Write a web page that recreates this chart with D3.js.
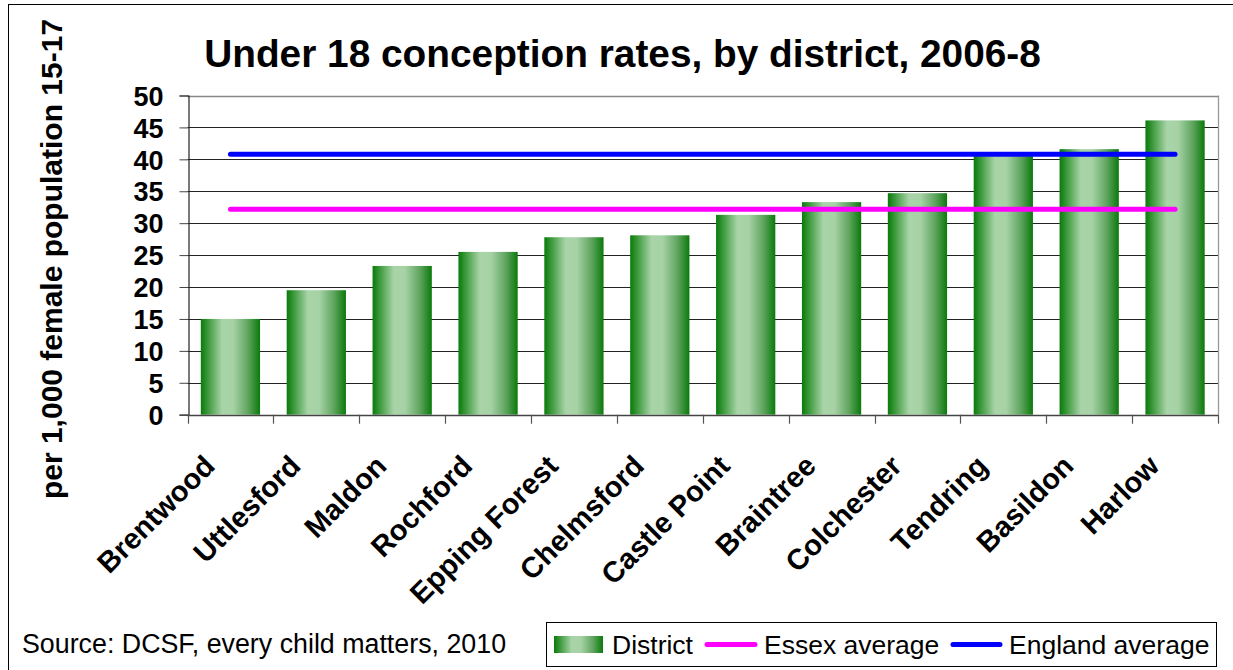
<!DOCTYPE html>
<html>
<head>
<meta charset="utf-8">
<script src="https://cdn.jsdelivr.net/npm/d3@7/dist/d3.min.js"></script>
<style>
html,body{margin:0;padding:0;background:#fff;}
svg{display:block;font-family:"Liberation Sans",Arial,sans-serif;}
</style>
</head>
<body>
<svg id="chart" width="1233" height="670"></svg>
<script>
const categories = ["Brentwood","Uttlesford","Maldon","Rochford","Epping Forest","Chelmsford","Castle Point","Braintree","Colchester","Tendring","Basildon","Harlow"];
const districtValues = [15.0,19.5,23.3,25.5,27.8,28.1,31.3,33.3,34.7,40.5,41.6,46.1];
const essexAverage = [32.2,32.2,32.2,32.2,32.2,32.2,32.2,32.2,32.2,32.2,32.2,32.2];
const englandAverage = [40.8,40.8,40.8,40.8,40.8,40.8,40.8,40.8,40.8,40.8,40.8,40.8];
const yTicks = [0,5,10,15,20,25,30,35,40,45,50];
const titleText = "Under 18 conception rates, by district, 2006-8";
const yTitle = "per 1,000 female population 15-17";
const sourceText = "Source: DCSF, every child matters, 2010";
const legendLabels = ["District","Essex average","England average"];

const svg = d3.select("#chart");
const plot = {left:187.5, right:1218, top:95.5, bottom:414.7};

// outer frame
svg.append("rect").attr("x",8.5).attr("y",4.5).attr("width",1300).attr("height",800)
  .attr("fill","#fff").attr("stroke","#000").attr("stroke-width",1);

const defs = svg.append("defs");
const grad = defs.append("linearGradient").attr("id","barGrad").attr("x1","0%").attr("x2","100%").attr("y1","0%").attr("y2","0%");
[[0,"#0a7a0a"],[0.06,"#218a21"],[0.36,"#a8d4a8"],[0.55,"#a6d2a6"],[0.8,"#5ea45e"],[1,"#0a7a0a"]]
  .forEach(([o,c])=>grad.append("stop").attr("offset",o).attr("stop-color",c));

const x = d3.scaleBand().domain(categories).range([plot.left, plot.right]).paddingInner(0.31).paddingOuter(0.155);
const y = d3.scaleLinear().domain([0,50]).range([plot.bottom, plot.top]);

// gridlines
svg.append("g").selectAll("line").data(yTicks.filter(d=>d>0 && d<50)).join("line")
  .attr("x1",plot.left).attr("x2",plot.right)
  .attr("y1",d=>Math.round(y(d))+0.5).attr("y2",d=>Math.round(y(d))+0.5)
  .attr("stroke","#222").attr("stroke-width",1);
// top and right border
svg.append("line").attr("x1",plot.left).attr("x2",plot.right).attr("y1",Math.round(y(50))+0.5).attr("y2",Math.round(y(50))+0.5)
  .attr("stroke","#888").attr("stroke-width",1.3);
svg.append("line").attr("x1",plot.right+0.5).attr("x2",plot.right+0.5).attr("y1",y(50)).attr("y2",y(0))
  .attr("stroke","#999").attr("stroke-width",1.3);

// bars
svg.append("g").selectAll("rect").data(districtValues).join("rect")
  .attr("x",(d,i)=>x(categories[i])).attr("width",x.bandwidth())
  .attr("y",d=>y(d)).attr("height",d=>y(0)-y(d))
  .attr("fill","url(#barGrad)");

// y axis
const yAxis = d3.axisLeft(y).tickValues(yTicks).tickSize(9).tickPadding(16).tickFormat(d3.format("d"));
const gy = svg.append("g").attr("transform",`translate(${Math.round(plot.left)+0.5},0)`).call(yAxis);
gy.select(".domain").attr("stroke","#222").attr("stroke-width",1.2);
gy.selectAll(".tick line").attr("stroke","#444");
gy.selectAll(".tick text").attr("font-size",27).attr("font-weight","bold").attr("fill","#000")
  .attr("font-family","'Liberation Sans',Arial,sans-serif").attr("dy","0.36em");

// x axis (ticks on category boundaries)
const step = x.step();
const boundaries = d3.range(categories.length+1).map(i=>plot.left + i*step);
svg.append("line").attr("x1",plot.left).attr("x2",plot.right).attr("y1",Math.round(y(0))+0.5).attr("y2",Math.round(y(0))+0.5)
  .attr("stroke","#444").attr("stroke-width",1.3);
svg.append("g").selectAll("line").data(boundaries).join("line")
  .attr("x1",d=>Math.round(d)+0.5).attr("x2",d=>Math.round(d)+0.5)
  .attr("y1",y(0)).attr("y2",y(0)+9).attr("stroke","#555").attr("stroke-width",1.2);

// x labels
svg.append("g").selectAll("text").data(categories).join("text")
  .attr("transform",d=>`translate(${x(d)+x.bandwidth()/2-14},${y(0)+53}) rotate(-45)`)
  .attr("text-anchor","end").attr("font-size",29).attr("font-weight","bold").attr("fill","#000")
  .text(d=>d);

// average lines
const cx = i => x(categories[i]) + x.bandwidth()/2;
const lineGen = arr => d3.line().x((d,i)=>cx(i)).y(d=>y(d))(arr);
svg.append("path").attr("d",lineGen(essexAverage)).attr("fill","none").attr("stroke","#ff00ff")
  .attr("stroke-width",5).attr("stroke-linecap","round");
svg.append("path").attr("d",lineGen(englandAverage)).attr("fill","none").attr("stroke","#0000ff")
  .attr("stroke-width",5).attr("stroke-linecap","round");

// title
svg.append("text").attr("x",622.5).attr("y",67).attr("text-anchor","middle")
  .attr("font-size",38.8).attr("font-weight","bold").attr("fill","#000").text(titleText);

// y title
svg.append("text").attr("transform",`translate(62,259) rotate(-90)`).attr("text-anchor","middle")
  .attr("font-size",30).attr("font-weight","bold").attr("fill","#000").text(yTitle);

// source
svg.append("text").attr("x",22).attr("y",653).attr("font-size",26.8).attr("fill","#000").text(sourceText);

// legend
const lg = svg.append("g");
lg.append("rect").attr("x",546.5).attr("y",622.5).attr("width",670).attr("height",44)
  .attr("fill","#fff").attr("stroke","#000").attr("stroke-width",1);
lg.append("rect").attr("x",554).attr("y",636).attr("width",49).attr("height",17).attr("fill","url(#barGrad)");
lg.append("text").attr("x",612).attr("y",654).attr("font-size",26.5).text(legendLabels[0]);
lg.append("line").attr("x1",707).attr("x2",755).attr("y1",644.5).attr("y2",644.5).attr("stroke","#ff00ff").attr("stroke-width",5).attr("stroke-linecap","round");
lg.append("text").attr("x",764).attr("y",654).attr("font-size",26.5).text(legendLabels[1]);
lg.append("line").attr("x1",953).attr("x2",1000).attr("y1",644.5).attr("y2",644.5).attr("stroke","#0000ff").attr("stroke-width",5).attr("stroke-linecap","round");
lg.append("text").attr("x",1009).attr("y",654).attr("font-size",26.5).text(legendLabels[2]);
</script>
</body>
</html>
